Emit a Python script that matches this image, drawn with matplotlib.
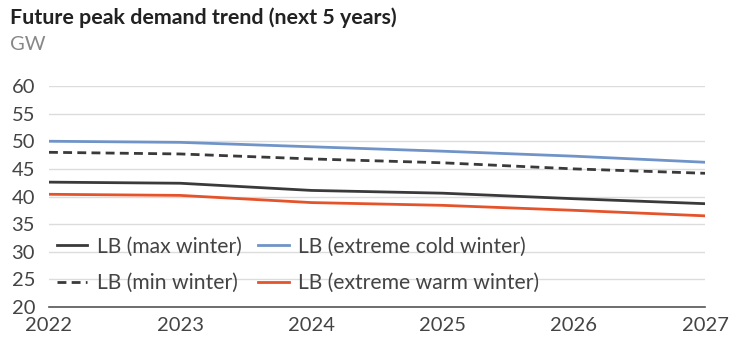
import matplotlib
matplotlib.use("Agg")
import matplotlib.pyplot as plt

plt.rcParams['font.family'] = ['Lato', 'DejaVu Sans']

years = [2022, 2023, 2024, 2025, 2026, 2027]
max_winter = [42.6, 42.4, 41.1, 40.6, 39.6, 38.7]
min_winter = [48.0, 47.7, 46.8, 46.1, 45.0, 44.2]
cold_winter = [50.0, 49.8, 49.0, 48.2, 47.3, 46.2]
warm_winter = [40.4, 40.2, 38.9, 38.4, 37.5, 36.5]
y_ticks = [20, 25, 30, 35, 40, 45, 50, 55, 60]

W, H = 731, 343
fig = plt.figure(figsize=(W / 100, H / 100), dpi=100)
ax = fig.add_axes([49 / W, 1 - 307 / H, (705 - 49) / W, (307 - 86) / H])

lw = 2.0
l1, = ax.plot(years, max_winter, color='#3a3a3a', lw=lw, label='LB (max winter)')
l2, = ax.plot(years, min_winter, color='#3a3a3a', lw=lw, ls=(0, (3.2, 1.9)),
              label='LB (min winter)')
l3, = ax.plot(years, cold_winter, color='#7094c8', lw=lw, label='LB (extreme cold winter)')
l4, = ax.plot(years, warm_winter, color='#e5532b', lw=lw, label='LB (extreme warm winter)')

ax.set_xlim(years[0], years[-1])
ax.set_ylim(y_ticks[0], y_ticks[-1])
ax.set_yticks(y_ticks)
ax.set_xticks(years)
ax.grid(axis='y', color='#dcdcdc', lw=1)
ax.set_axisbelow(True)
for s in ['top', 'right', 'left']:
    ax.spines[s].set_visible(False)
ax.spines['bottom'].set_color('#555555')
ax.spines['bottom'].set_linewidth(1.2)
ax.tick_params(axis='both', length=0, labelsize=14.5, labelcolor='#444444')
ax.tick_params(axis='y', pad=10)
ax.tick_params(axis='x', pad=7)

ax.legend(handles=[l1, l2, l3, l4], ncol=2, frameon=False, fontsize=15.2,
          labelcolor='#444444', loc='upper left', bbox_to_anchor=(0.012, 0.318),
          handlelength=1.45, handletextpad=0.43, columnspacing=0.8,
          labelspacing=0.78, borderaxespad=0, borderpad=0)

fig.text(10 / W, 1 - 18 / H, 'Future peak demand trend (next 5 years)',
         fontsize=15.4, fontweight='bold', color='#222222', va='center', ha='left')
fig.text(10 / W, 1 - 45 / H, 'GW', fontsize=14.5, color='#888888',
         va='center', ha='left')

fig.savefig('out.png', dpi=100)
